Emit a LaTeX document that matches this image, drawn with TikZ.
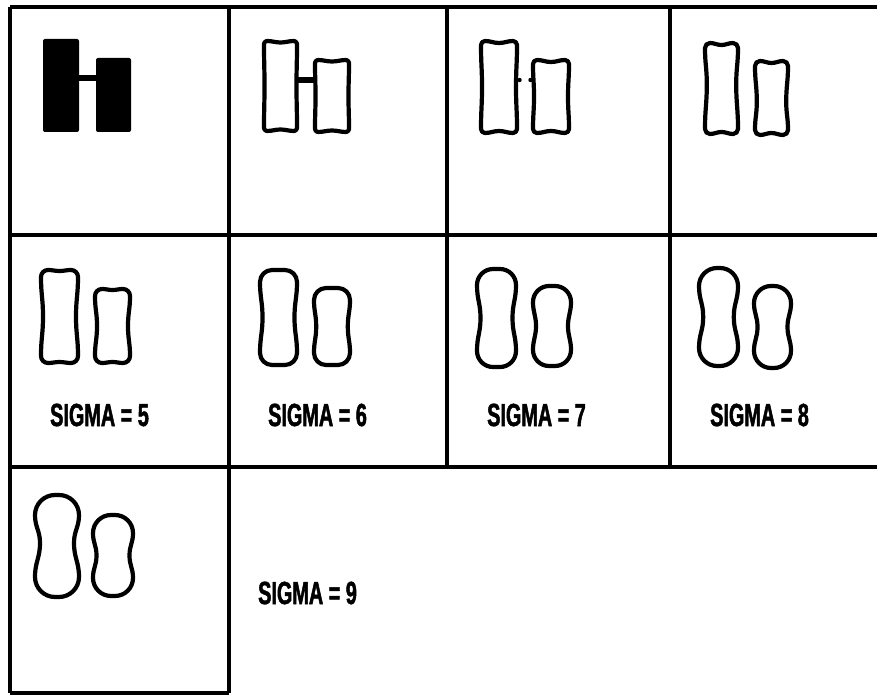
\documentclass[tikz,border=0pt]{standalone}
\usepackage{fontspec}
\newfontfamily\sigfont[FakeStretch=0.62,FakeBold=1.5]{Liberation Sans}
\newcommand{\footshape}[8]{%
  \pgfmathsetmacro\fsXa{#1}%
  \pgfmathsetmacro\fsYa{#2}%
  \pgfmathsetmacro\fsXb{#3}%
  \pgfmathsetmacro\fsYb{#4}%
  \pgfmathsetmacro\fsR{#5}%
  \pgfmathsetmacro\fsD{#6}%
  \pgfmathsetmacro\fsT{#7}%
  \pgfmathsetmacro\fsYw{#2+(#4-#2)*#8}%
  \pgfmathsetmacro\fsXm{(#1+#3)/2}%
  \pgfmathsetmacro\fsK{0.552*#5}%
  \pgfmathsetmacro\fsH{0.4*((#3-#1)/2-#5)}%
  \pgfmathsetmacro\fsLa{0.45*(\fsYw-#2-#5)}%
  \pgfmathsetmacro\fsLb{0.45*(#4-#5-\fsYw)}%
  \draw[shapeline]
   (\fsXm,\fsYa+\fsT)
   .. controls (\fsXm+\fsH,\fsYa+\fsT) and (\fsXb-\fsR-\fsH,\fsYa) .. (\fsXb-\fsR,\fsYa)
   .. controls (\fsXb-\fsR+\fsK,\fsYa) and (\fsXb,\fsYa+\fsR-\fsK) .. (\fsXb,\fsYa+\fsR)
   .. controls (\fsXb,\fsYa+\fsR+\fsLa) and (\fsXb-\fsD,\fsYw-\fsLa) .. (\fsXb-\fsD,\fsYw)
   .. controls (\fsXb-\fsD,\fsYw+\fsLb) and (\fsXb,\fsYb-\fsR-\fsLb) .. (\fsXb,\fsYb-\fsR)
   .. controls (\fsXb,\fsYb-\fsR+\fsK) and (\fsXb-\fsR+\fsK,\fsYb) .. (\fsXb-\fsR,\fsYb)
   .. controls (\fsXb-\fsR-\fsH,\fsYb) and (\fsXm+\fsH,\fsYb-\fsT) .. (\fsXm,\fsYb-\fsT)
   .. controls (\fsXm-\fsH,\fsYb-\fsT) and (\fsXa+\fsR+\fsH,\fsYb) .. (\fsXa+\fsR,\fsYb)
   .. controls (\fsXa+\fsR-\fsK,\fsYb) and (\fsXa,\fsYb-\fsR+\fsK) .. (\fsXa,\fsYb-\fsR)
   .. controls (\fsXa,\fsYb-\fsR-\fsLb) and (\fsXa+\fsD,\fsYw+\fsLb) .. (\fsXa+\fsD,\fsYw)
   .. controls (\fsXa+\fsD,\fsYw-\fsLa) and (\fsXa,\fsYa+\fsR+\fsLa) .. (\fsXa,\fsYa+\fsR)
   .. controls (\fsXa,\fsYa+\fsR-\fsK) and (\fsXa+\fsR-\fsK,\fsYa) .. (\fsXa+\fsR,\fsYa)
   .. controls (\fsXa+\fsR+\fsH,\fsYa) and (\fsXm-\fsH,\fsYa+\fsT) .. cycle;
}
\tikzset{
  gridline/.style={line width=4pt, line cap=square},
  shapeline/.style={line width=4.2pt, line join=round},
  bridge/.style={line width=5.5pt},
  sig/.style={anchor=west, inner sep=0pt, font=\sigfont\bfseries\fontsize{32}{32}\selectfont}
}
\begin{document}
\begin{tikzpicture}[x=1pt,y=-1pt]
\useasboundingbox[fill=white] (0,0) rectangle (877,695);
% grid
\draw[gridline] (10,7) -- (877,7);
\draw[gridline] (10,235) -- (877,235);
\draw[gridline] (10,467) -- (877,467);
\draw[gridline] (10,693) -- (229,693);
\draw[gridline] (10,7) -- (10,693);
\draw[gridline] (229,7) -- (229,693);
\draw[gridline] (447,7) -- (447,467);
\draw[gridline] (670,7) -- (670,467);
% cell 1
\fill[rounded corners=2pt] (43,39) rectangle (79,132);
\fill[rounded corners=2pt] (96,58) rectangle (131,132);
\draw[bridge] (78,78) -- (97,78);
% cell 2
\footshape{264}{41}{297}{131}{3}{0.5}{1.5}{0.5}
\footshape{315}{60}{349}{132}{3}{0.5}{1.5}{0.5}
\draw[bridge] (297,80) -- (315,80);
% cell 3
\footshape{481}{41}{517}{133}{4}{1}{2}{0.5}
\footshape{533}{60}{569}{133}{4}{1}{2}{0.5}
\fill (519.5,80) circle (2.2);
\fill (530.5,80) circle (2.2);
% cell 4
\footshape{705}{43}{738}{134}{5}{1.8}{2}{0.45}
\footshape{755}{61}{788}{135}{5}{1.8}{2}{0.55}
% cell 5
\footshape{41}{270}{78}{363}{7}{2}{1}{0.5}
\footshape{95}{289}{130}{363}{7}{2}{1}{0.5}
% cell 6
\footshape{260}{270}{297}{365}{12}{2.5}{0}{0.5}
\footshape{314}{288}{350}{365}{12}{2.2}{0}{0.5}
% cell 7
\footshape{477}{269}{516}{367}{16}{3.5}{0}{0.5}
\footshape{533}{286}{571}{366}{16}{3}{0}{0.5}
% cell 8
\footshape{699}{268}{738}{366}{18}{4.2}{0}{0.5}
\footshape{754}{286}{791}{368}{17}{3.5}{0}{0.5}
% cell 9
\footshape{35}{495}{79}{597}{20}{5}{0}{0.47}
\footshape{93}{515}{133}{596}{18}{3.5}{0}{0.5}
% labels
\node[sig] (s5) at (50,415) {SIGMA = 5};
\node[sig] (s6) at (268,415) {SIGMA = 6};
\node[sig] (s7) at (487,415) {SIGMA = 7};
\node[sig] (s8) at (710,415) {SIGMA = 8};
\node[sig] (s9) at (258,593) {SIGMA = 9};
\end{tikzpicture}
\end{document}
